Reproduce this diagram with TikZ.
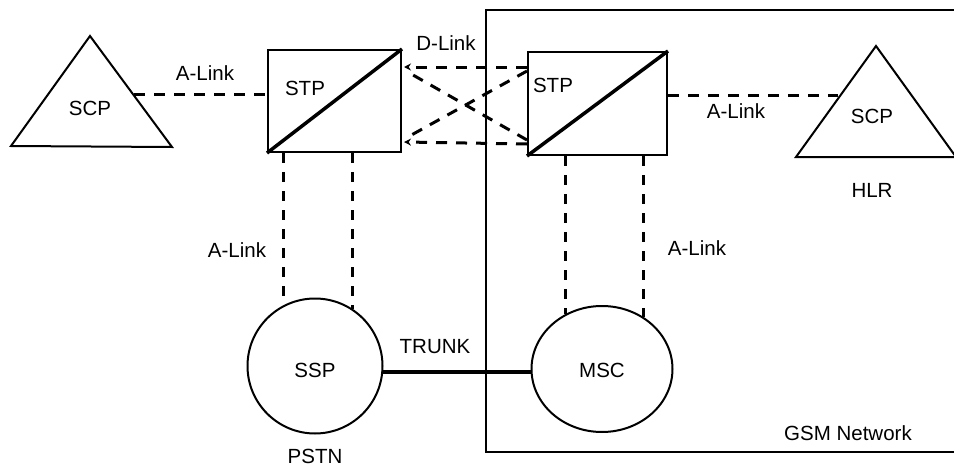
\documentclass[tikz,border=0pt]{standalone}
\usepackage{fontspec}
\setmainfont{Liberation Sans}
\usetikzlibrary{arrows.meta,calc,shapes.geometric}
\begin{document}
\begin{tikzpicture}[x=1pt,y=-1pt,
  lbl/.style={inner sep=0pt,font=\fontsize{20.5}{24}\selectfont},
  stpbox/.style={draw,line width=2pt,rectangle,inner sep=0pt},
  oval/.style={draw,line width=2pt,ellipse,inner sep=0pt},
  tri/.style={line width=2pt,line join=miter},
  slink/.style={line width=3pt,dash pattern=on 11pt off 9pt},
  vlink/.style={line width=3pt,dash pattern=on 10pt off 9pt},
  trunk/.style={line width=3.5pt}]
\useasboundingbox (0,0) rectangle (954,466);
% GSM frame
\draw[line width=2pt] (956,10) -- (486,10) -- (486,452) -- (956,452);
% left SCP triangle
\coordinate (scpLa) at (90,36);
\coordinate (scpLb) at (11,146);
\coordinate (scpLc) at (172,147);
\draw[tri] (scpLa) -- (scpLb) -- (scpLc) -- cycle;
\node[lbl] (scpLt) at (90,108) {SCP};
\coordinate (scpLe) at (134,94);
% right SCP triangle
\coordinate (scpRa) at (876,46);
\coordinate (scpRb) at (796,157);
\coordinate (scpRc) at (956,157);
\draw[tri] (scpRa) -- (scpRb) -- (scpRc) -- cycle;
\node[lbl] (scpRt) at (872,116) {SCP};
\coordinate (scpRe) at (838,95);
% STP boxes
\node[stpbox,minimum width=133pt,minimum height=102pt] (stpL) at (334.5,101) {};
\node[stpbox,minimum width=139pt,minimum height=103pt] (stpR) at (597.5,103.5) {};
\draw[line width=3.5pt] (stpL.south west) -- (stpL.north east);
\draw[line width=3.5pt] (stpR.south west) -- (stpR.north east);
\node[lbl] (stpLt) at (305,88) {STP};
\node[lbl] (stpRt) at (553,85) {STP};
% ovals
\node[oval,minimum width=135pt,minimum height=135pt] (ssp) at (315,366) {};
\node[lbl] (sspt) at (315,370) {SSP};
\node[oval,minimum width=141pt,minimum height=126pt] (msc) at (602,369) {};
\node[lbl] (msct) at (602,370) {MSC};
% A-links horizontal
\draw[slink] (scpLe) -- (stpL.west |- scpLe);
\draw[slink] (stpR.east |- scpRe) -- (scpRe);
% D-links
\draw[slink,-{Stealth[length=7pt,width=7pt]}] ($(stpR.north west)+(0,16)$) -- ($(stpL.north east)+(2,18)$);
\draw[slink,-{Stealth[length=7pt,width=7pt]}] ($(stpR.south west)+(0,-12)$) -- ($(stpL.south east)+(2,-11)$);
\draw[slink] ($(stpR.north west)+(0,20)$) -- ($(stpL.south east)+(4,-15)$);
\draw[slink] ($(stpR.south west)+(0,-16)$) -- ($(stpL.north east)+(4,22)$);
% A-links vertical
\draw[vlink] (ssp.117 |- stpL.south) -- (ssp.117);
\draw[vlink] (ssp.57 |- stpL.south) -- (ssp.57);
\draw[vlink] (msc.124.6 |- stpR.south) -- (msc.124.6);
\draw[vlink] (msc.51.3 |- stpR.south) -- (msc.51.3);
% trunk
\draw[trunk] (ssp.-5) -- (ssp.-5 -| msc.west);
% labels
\node[lbl] (alL) at (205,73) {A-Link};
\node[lbl] (dl) at (446,43) {D-Link};
\node[lbl] (alR) at (736,111) {A-Link};
\node[lbl] (alV1) at (237,250) {A-Link};
\node[lbl] (alV2) at (697,248) {A-Link};
\node[lbl] (trk) at (435,347) {TRUNK};
\node[lbl] (pstn) at (315,456) {PSTN};
\node[lbl] (hlr) at (872,190) {HLR};
\node[lbl] (gsm) at (848,433) {GSM Network};
\end{tikzpicture}
\end{document}
